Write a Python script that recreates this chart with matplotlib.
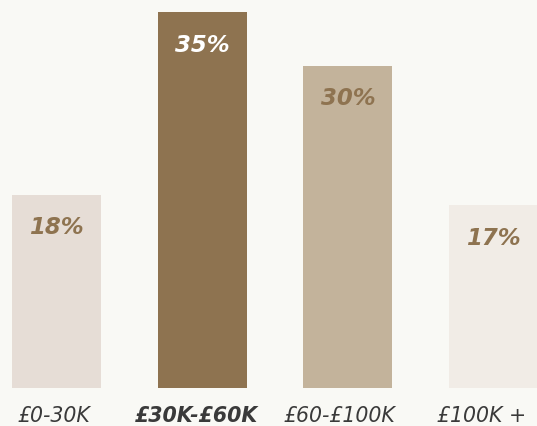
import matplotlib.pyplot as plt
import matplotlib.transforms as mtransforms

# Data
categories = ['£0-30K', '£30K-£60K', '£60-£100K', '£100K +']
shares = [18, 35, 30, 17]
bar_colors = ['#e6ddd6', '#8e7350', '#c3b39b', '#f1ece6']
value_colors = ['#8e7350', '#ffffff', '#8e7350', '#8e7350']
bold_label = [False, True, False, False]

bg = '#f9f9f5'
fig = plt.figure(figsize=(5.37, 4.27), dpi=100, facecolor=bg)
ax = fig.add_axes([0, 38 / 427, 1, 376 / 427])
ax.set_facecolor(bg)

pos = list(range(len(categories)))
ax.bar(pos, shares, width=0.611, color=bar_colors)
ax.set_xlim(-0.388, 3.298)
ax.set_ylim(0, 35)
ax.axis('off')

font = ['DejaVu Sans']

# value labels inside the bars
for x, v, c in zip(pos, shares, value_colors):
    off = mtransforms.offset_copy(ax.transData, fig=fig, x=0, y=-32, units='dots')
    ax.text(x, v, f'{v}%', transform=off, ha='center', va='center',
            fontsize=16.5, fontweight='bold', style='italic', color=c, family=font)

# category labels under the bars
shift = [-3, -6, -8, -12]
for x, lab, b, s in zip(pos, categories, bold_label, shift):
    off = mtransforms.offset_copy(ax.transData, fig=fig, x=s, y=-27, units='dots')
    ax.text(x, 0, lab, transform=off, ha='center', va='center',
            fontsize=14.8, style='italic', fontweight='bold' if b else 'normal',
            color='#3a3a3a', family=font)

fig.savefig('out.png', dpi=100, facecolor=bg)
